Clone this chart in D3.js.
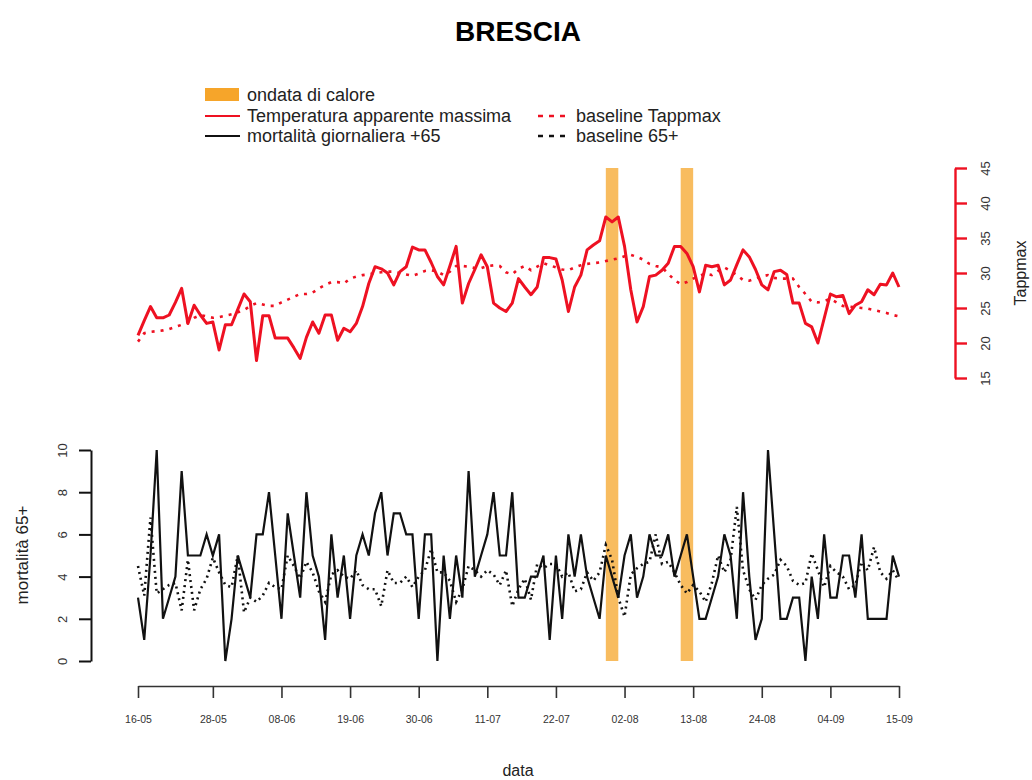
<!DOCTYPE html>
<html>
<head>
<meta charset="utf-8">
<script src="https://cdn.jsdelivr.net/npm/d3@7/dist/d3.min.js"></script>
<style>
  html, body { margin: 0; padding: 0; background: #fff; }
  svg { display: block; font-family: "Liberation Sans", Arial, sans-serif; }
</style>
</head>
<body>
<svg id="chart" width="1032" height="780"></svg>
<script>
// Daily series, 16 May – 15 Sep
const tickLabels = ["16-05","28-05","08-06","19-06","30-06","11-07","22-07","02-08","13-08","24-08","04-09","15-09"];

// heat-wave periods (first day, last day)
const heatWaves = [["30-07","01-08"], ["11-08","13-08"]];

// maximum apparent temperature (°C)
const tappmax = [
  21.1,23.2,25.2,23.6,23.6,24.0,25.8,27.8,22.8,25.4,
  24.0,22.8,23.0,19.0,22.6,22.6,24.8,27.0,25.9,17.5,
  23.9,23.9,20.7,20.7,20.7,19.3,17.8,20.8,23.0,21.4,
  24.0,24.0,20.4,22.1,21.6,22.8,25.2,28.5,30.9,30.6,
  30.0,28.3,30.2,30.9,33.7,33.3,33.3,31.5,29.5,28.3,
  31.0,33.8,25.7,28.5,30.5,32.6,30.9,25.7,25.0,24.5,
  25.7,29.2,28.0,26.9,28.0,32.2,32.2,32.0,29.0,24.5,
  28.0,29.7,33.3,34.0,34.6,38.0,37.3,38.0,33.8,27.6,
  23.0,25.2,29.5,29.7,30.4,31.4,33.8,33.8,32.8,30.9,
  27.3,31.1,30.9,31.1,28.3,29.0,31.2,33.3,32.3,30.5,
  28.3,27.6,30.2,30.4,29.8,25.7,25.7,22.8,22.3,20.0,
  23.5,27.0,26.6,26.8,24.2,25.4,25.9,27.6,26.9,28.4,
  28.3,30.0,28.0
];

// baseline of maximum apparent temperature
const baseTapp = [
  20.2,21.4,21.6,21.7,21.8,22.0,22.3,22.6,23.0,23.6,
  24.0,23.8,23.6,23.7,23.9,24.1,24.4,24.7,25.3,25.7,
  25.5,25.3,25.3,25.8,26.2,26.6,27.0,27.0,27.2,27.8,
  28.3,28.7,28.7,28.5,29.2,29.5,29.7,29.8,30.0,30.1,
  30.2,30.2,30.0,29.8,29.6,29.9,30.3,30.4,30.2,29.7,
  30.2,31.0,31.0,30.9,30.7,30.7,31.0,31.1,31.0,30.1,
  29.8,30.6,31.0,30.4,30.9,31.4,31.1,30.8,30.5,30.4,
  30.8,31.1,31.3,31.4,31.5,31.7,31.9,32.1,32.4,32.6,
  32.3,31.9,31.3,31.0,30.8,29.9,29.0,28.4,28.7,29.2,
  29.6,29.9,29.7,30.3,30.8,30.3,29.7,29.0,28.9,29.2,
  29.5,29.7,29.3,29.2,29.2,29.2,28.0,27.0,25.9,25.8,
  26.0,26.3,25.8,25.3,25.2,25.1,25.0,24.9,24.7,24.5,
  24.3,24.0,23.8
];

// daily deaths, age 65+
const mortality = [
  3,1,5,10,2,3,4,9,5,5,
  5,6,5,6,0,2,5,4,3,6,
  6,8,5,2,7,5,3,8,5,4,
  1,6,3,5,2,5,6,5,7,8,
  5,7,7,6,6,2,6,6,0,5,
  2,5,3,9,4,5,6,8,5,5,
  8,3,3,4,4,5,1,5,2,6,
  4,6,4,3,2,5,4,3,5,6,
  3,4,6,5,5,6,4,5,6,4,
  2,2,3,4,6,5,2,8,4,1,
  2,10,6,2,2,3,3,0,4,2,
  6,3,3,5,5,3,6,2,2,2,
  2,5,4
];

// expected deaths, age 65+
const base65 = [
  4.5,3.1,6.8,3.2,3.4,3.6,3.7,2.4,4.8,2.4,
  3.4,3.9,4.9,4.2,3.6,3.5,5.0,2.3,3.0,2.8,
  3.1,3.7,3.5,3.4,5.0,4.5,3.9,4.7,4.2,3.3,
  2.8,4.1,4.3,4.0,3.9,4.3,3.6,3.4,3.4,2.6,
  4.3,3.7,3.7,4.0,3.5,4.0,4.3,5.3,4.2,4.2,
  3.8,2.8,3.4,4.5,4.3,4.0,4.3,4.1,3.6,4.3,
  2.6,3.4,3.9,2.9,4.6,4.4,4.6,4.6,4.0,4.2,
  3.3,3.4,4.2,3.8,4.2,5.5,4.8,3.0,2.1,4.1,
  4.4,4.6,4.7,6.0,4.6,4.7,4.2,3.6,3.2,3.6,
  3.3,2.8,3.7,5.0,4.2,4.8,7.3,4.3,3.4,2.9,
  3.6,3.9,4.1,4.8,4.5,3.8,3.6,3.7,5.1,4.3,
  3.5,4.5,4.2,4.0,3.4,3.6,4.7,4.3,5.4,4.2,
  3.9,4.3,3.8
];

const tempTicks = [15, 20, 25, 30, 35, 40, 45];
const mortTicks = [0, 2, 4, 6, 8, 10];

const RED = "#ee1122";
const ORANGE = "#f6a52a";

// day labels dd-mm for the whole period
const fmt = d3.timeFormat("%d-%m");
const days = d3.timeDay.range(new Date(2015, 4, 16), new Date(2015, 8, 16)).map(fmt);

const svg = d3.select("#chart");

const x = d3.scalePoint().domain(days).range([138, 899]);
const yT = d3.scaleLinear().domain([15, 45]).range([378, 168]);
const yM = d3.scaleLinear().domain([0, 10]).range([661, 450]);

// title
svg.append("text")
  .attr("x", 518).attr("y", 41)
  .attr("text-anchor", "middle")
  .attr("font-size", 28).attr("font-weight", "bold")
  .text("BRESCIA");

// heat-wave bands behind the series
svg.append("g").selectAll("rect")
  .data(heatWaves)
  .join("rect")
  .attr("x", d => x(d[0]))
  .attr("width", d => x(d[1]) - x(d[0]))
  .attr("y", yT(45))
  .attr("height", yM(0) - yT(45))
  .attr("fill", ORANGE)
  .attr("opacity", 0.75);

const line = (yScale) => d3.line()
  .x((d, i) => x(days[i]))
  .y(d => yScale(d));

// temperature panel
svg.append("path").datum(baseTapp)
  .attr("d", line(yT))
  .attr("fill", "none").attr("stroke", RED)
  .attr("stroke-width", 2.6).attr("stroke-dasharray", "3,6");

svg.append("path").datum(tappmax)
  .attr("d", line(yT))
  .attr("fill", "none").attr("stroke", RED)
  .attr("stroke-width", 3).attr("stroke-linejoin", "round");

// mortality panel
svg.append("path").datum(base65)
  .attr("d", line(yM))
  .attr("fill", "none").attr("stroke", "#111")
  .attr("stroke-width", 2.6).attr("stroke-dasharray", "2,4");

svg.append("path").datum(mortality)
  .attr("d", line(yM))
  .attr("fill", "none").attr("stroke", "#111")
  .attr("stroke-width", 2.2).attr("stroke-linejoin", "miter");

// axes
const styleAxis = (g, color, width) => {
  g.selectAll(".domain").attr("stroke", color).attr("stroke-width", width);
  g.selectAll(".tick line").attr("stroke", color).attr("stroke-width", width);
  g.selectAll(".tick text").attr("fill", "#333");
};

const gx = svg.append("g")
  .attr("transform", `translate(0,686)`)
  .call(d3.axisBottom(x).tickValues(tickLabels).tickSize(12).tickSizeOuter(0));
styleAxis(gx, "#333", 1.6);
gx.selectAll(".tick text")
  .attr("y", 30).attr("font-size", 10.5)
  .attr("font-family", "'Liberation Sans Narrow','Liberation Sans',sans-serif");

const gl = svg.append("g")
  .attr("transform", `translate(91,0)`)
  .call(d3.axisLeft(yM).tickValues(mortTicks).tickSize(12).tickSizeOuter(0));
styleAxis(gl, "#111", 2);
gl.selectAll(".tick text")
  .attr("transform", "rotate(-90)")
  .attr("x", 0).attr("y", -29).attr("dy", "0.35em")
  .attr("text-anchor", "middle").attr("font-size", 13);

const gr = svg.append("g")
  .attr("transform", `translate(955,0)`)
  .call(d3.axisRight(yT).tickValues(tempTicks).tickSize(12).tickSizeOuter(0));
styleAxis(gr, RED, 2.4);
gr.selectAll(".tick text")
  .attr("transform", "rotate(-90)")
  .attr("x", 0).attr("y", 30).attr("dy", "0.35em")
  .attr("text-anchor", "middle").attr("font-size", 13);

// axis titles
svg.append("text")
  .attr("transform", "translate(1020,273) rotate(-90)")
  .attr("text-anchor", "middle").attr("dy", "0.35em")
  .attr("font-size", 16).attr("fill", "#222")
  .text("Tappmax");

svg.append("text")
  .attr("transform", "translate(22,555) rotate(-90)")
  .attr("text-anchor", "middle").attr("dy", "0.35em")
  .attr("font-size", 17).attr("fill", "#222")
  .text("mortalità 65+");

svg.append("text")
  .attr("x", 518).attr("y", 776)
  .attr("text-anchor", "middle")
  .attr("font-size", 16).attr("fill", "#222")
  .text("data");

// legend
const legend = svg.append("g").attr("font-size", 18).attr("fill", "#222");
legend.append("rect")
  .attr("x", 205).attr("y", 88).attr("width", 34).attr("height", 13)
  .attr("fill", ORANGE);
legend.append("text").attr("x", 247).attr("y", 101).text("ondata di calore");

legend.append("line")
  .attr("x1", 205).attr("x2", 240).attr("y1", 116).attr("y2", 116)
  .attr("stroke", RED).attr("stroke-width", 2);
legend.append("text").attr("x", 247).attr("y", 122).text("Temperatura apparente massima");

legend.append("line")
  .attr("x1", 205).attr("x2", 240).attr("y1", 136).attr("y2", 136)
  .attr("stroke", "#111").attr("stroke-width", 2);
legend.append("text").attr("x", 247).attr("y", 142).text("mortalità giornaliera +65");

legend.append("line")
  .attr("x1", 538).attr("x2", 570).attr("y1", 116).attr("y2", 116)
  .attr("stroke", RED).attr("stroke-width", 2.6).attr("stroke-dasharray", "5,6");
legend.append("text").attr("x", 576).attr("y", 122).text("baseline Tappmax");

legend.append("line")
  .attr("x1", 538).attr("x2", 570).attr("y1", 136).attr("y2", 136)
  .attr("stroke", "#111").attr("stroke-width", 2.6).attr("stroke-dasharray", "5,6");
legend.append("text").attr("x", 576).attr("y", 142).text("baseline 65+");
</script>
</body>
</html>
